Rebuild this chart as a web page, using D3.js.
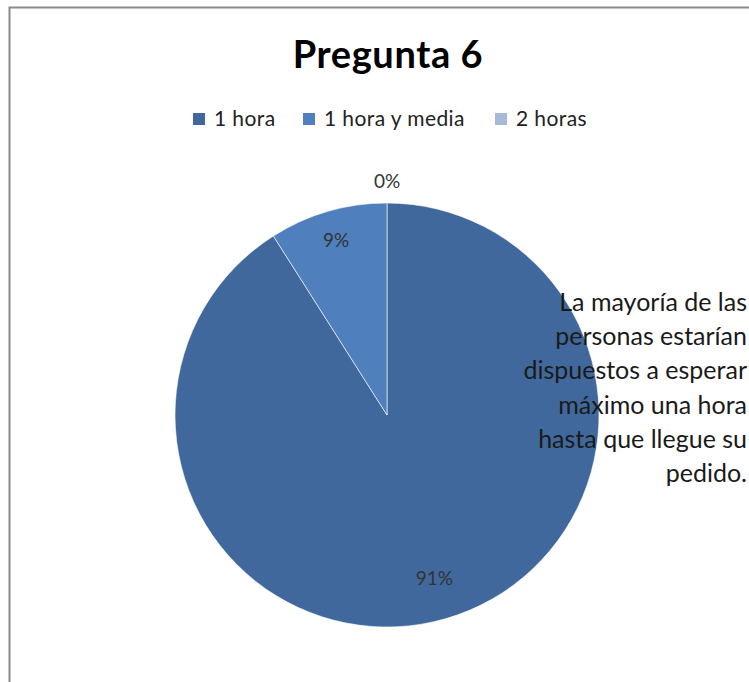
<!DOCTYPE html>
<html>
<head>
<meta charset="utf-8">
<script src="https://cdn.jsdelivr.net/npm/d3@7"></script>
<style>
  html, body { margin: 0; padding: 0; background: #fff; }
  svg { display: block; }
</style>
</head>
<body>
<svg id="chart" width="749" height="682"></svg>
<script>
// Survey answers: maximum waiting time for an order
const categories = ["1 hora", "1 hora y media", "2 horas"];
const shares = [91, 9, 0];
const sliceColors = ["#40689C", "#4F80BD", "#A6B9D9"];
const title = "Pregunta 6";
const noteLines = [
  "La mayoría de las",
  "personas estarían",
  "dispuestos a esperar",
  "máximo una hora",
  "hasta que llegue su",
  "pedido."
];

const font = "Lato, 'Open Sans', sans-serif";
const svg = d3.select("#chart");
const W = 749, H = 682;

// chart frame (runs past the right and bottom edges)
svg.append("rect")
  .attr("x", 9.5).attr("y", 7.5)
  .attr("width", W + 20).attr("height", H + 20)
  .attr("fill", "#fff")
  .attr("stroke", "#8a8a8a")
  .attr("stroke-width", 2);

// title
svg.append("text")
  .attr("x", 388).attr("y", 68)
  .attr("text-anchor", "middle")
  .attr("font-family", font)
  .attr("font-weight", "bold")
  .attr("font-size", 38)
  .attr("letter-spacing", 0.6)
  .attr("fill", "#000")
  .text(title);

// legend
const color = d3.scaleOrdinal().domain(categories).range(sliceColors);
const legendX = [193, 303, 495];
const legend = svg.append("g");
categories.forEach((c, i) => {
  const g = legend.append("g").attr("transform", `translate(${legendX[i]},113)`);
  g.append("rect").attr("width", 12).attr("height", 12).attr("fill", color(c));
  g.append("text")
    .attr("x", 21).attr("y", 13)
    .attr("font-family", font)
    .attr("font-size", 21)
    .attr("letter-spacing", 0.4)
    .attr("fill", "#222")
    .text(c);
});

// pie
const cx = 387, cy = 415, r = 212;
const data = categories.map((c, i) => ({ cat: c, value: shares[i] }));
const pie = d3.pie().value(d => d.value).sort(null);
const arcs = pie(data);
const arc = d3.arc().innerRadius(0).outerRadius(r);

const pg = svg.append("g").attr("transform", `translate(${cx},${cy})`);
pg.selectAll("path")
  .data(arcs)
  .join("path")
  .attr("d", arc)
  .attr("fill", d => color(d.data.cat))
  .attr("stroke", "#fff")
  .attr("stroke-width", d => d.data.value > 0 ? 0.6 : 0);

// percentage labels: empty slices outside, small slices near the rim
const labelArc = k => d3.arc().innerRadius(r * k).outerRadius(r * k);
const labelPos = d => {
  const k = d.data.value === 0 ? 1.1 : (d.data.value < 50 ? 0.86 : 0.8);
  return labelArc(k).centroid(d);
};
pg.selectAll("text.pct")
  .data(arcs)
  .join("text")
  .attr("class", "pct")
  .attr("transform", d => `translate(${labelPos(d)})`)
  .attr("text-anchor", "middle")
  .attr("dy", "0.35em")
  .attr("font-family", font)
  .attr("font-size", 19)
  .attr("fill", "#333")
  .text(d => d.data.value + "%");

// annotation, right aligned
const note = svg.append("text")
  .attr("font-family", font)
  .attr("font-size", 25)
  .attr("fill", "#1a1a1a")
  .attr("text-anchor", "end");
noteLines.forEach((line, i) => {
  note.append("tspan")
    .attr("x", 747)
    .attr("y", 311 + i * 34.2)
    .text(line);
});
</script>
</body>
</html>
